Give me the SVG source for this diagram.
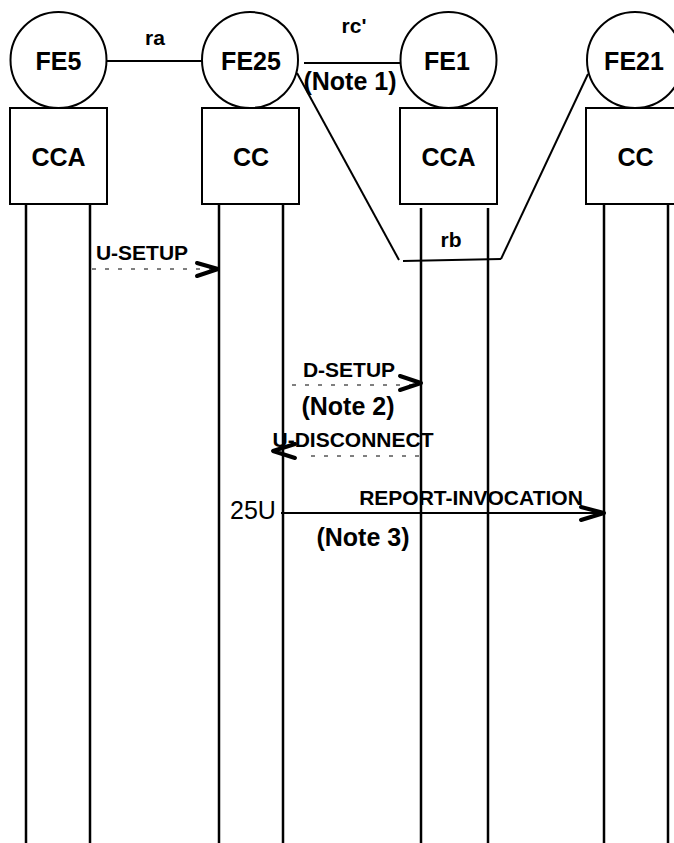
<svg xmlns="http://www.w3.org/2000/svg" width="674" height="843" viewBox="0 0 674 843">
<style>
.shape{fill:#fff;stroke:#000;stroke-width:2}
.life{stroke:#000;stroke-width:2.5}
.link{stroke:#000;stroke-width:2;fill:none}
.dash{stroke:#000;stroke-width:1;stroke-dasharray:4 9;fill:none}
.solid{stroke:#000;stroke-width:2;fill:none}
.head{stroke:#000;stroke-width:4;fill:none;stroke-linecap:round;stroke-linejoin:round}
.big{font-family:"Liberation Sans",Arial,sans-serif;font-weight:bold;font-size:25px;text-anchor:middle}
.sm{font-family:"Liberation Sans",Arial,sans-serif;font-weight:bold;font-size:21px;text-anchor:middle}
.reg{font-family:"Liberation Sans",Arial,sans-serif;font-size:25px;text-anchor:middle}
</style>
<g id="lifelines">
<line class="life" x1="26" y1="204" x2="26" y2="843"/>
<line class="life" x1="90" y1="204" x2="90" y2="843"/>
<line class="life" x1="219" y1="204" x2="219" y2="843"/>
<line class="life" x1="283" y1="204" x2="283" y2="843"/>
<line class="life" x1="421" y1="208" x2="421" y2="843"/>
<line class="life" x1="488" y1="208" x2="488" y2="843"/>
<line class="life" x1="604" y1="204" x2="604" y2="843"/>
<line class="life" x1="668" y1="204" x2="668" y2="843"/>
</g>
<g id="FE5">
<circle class="shape" cx="58.5" cy="60" r="48"/>
<text class="big" x="58.5" y="70">FE5</text>
<rect class="shape" x="10" y="108" width="97" height="96"/>
<text class="big" x="58.5" y="166">CCA</text>
</g>
<g id="FE25">
<circle class="shape" cx="250" cy="60" r="48"/>
<text class="big" x="251" y="70">FE25</text>
<rect class="shape" x="202" y="108" width="97" height="96"/>
<text class="big" x="251" y="166">CC</text>
</g>
<g id="FE1">
<circle class="shape" cx="448.5" cy="60" r="48"/>
<text class="big" x="447" y="70">FE1</text>
<rect class="shape" x="400" y="108" width="97" height="96"/>
<text class="big" x="448.5" y="166">CCA</text>
</g>
<g id="FE21">
<circle class="shape" cx="635" cy="60" r="48"/>
<text class="big" x="634" y="70">FE21</text>
<rect class="shape" x="586" y="108" width="97" height="96"/>
<text class="big" x="635.5" y="166">CC</text>
</g>
<g id="connectors">
<line class="link" x1="107" y1="61" x2="202" y2="61"/>
<text class="sm" x="155" y="45">ra</text>
<line class="link" x1="304" y1="63" x2="400" y2="63"/>
<text class="sm" x="354" y="33">rc'</text>
<text class="big" x="350" y="90">(Note 1)</text>
<line class="link" x1="297" y1="73" x2="399" y2="260"/>
<line class="link" x1="403" y1="261" x2="501" y2="259"/>
<line class="link" x1="501" y1="259" x2="588" y2="74"/>
<text class="sm" x="451" y="247">rb</text>

<line class="dash" x1="92" y1="269" x2="216" y2="269"/>
<polyline class="head" points="197,263 218,269 197,276"/>
<text class="sm" x="142" y="260">U-SETUP</text>

<line class="dash" x1="292" y1="385" x2="419" y2="385"/>
<polyline class="head" points="400,376 421,383 400,390"/>
<text class="sm" x="349" y="377">D-SETUP</text>
<text class="big" x="348" y="415">(Note 2)</text>

<line class="dash" x1="311" y1="456" x2="419" y2="456"/>
<polyline class="head" points="295,444 273,451 295,458"/>
<text class="sm" x="353" y="447">U-DISCONNECT</text>

<line class="solid" x1="281" y1="513" x2="603" y2="513"/>
<polyline class="head" points="581,507 604,513 581,520"/>
<text class="sm" x="471" y="505">REPORT-INVOCATION</text>
<text class="reg" x="253" y="519">25U</text>
<text class="big" x="363" y="546">(Note 3)</text>
</g>
</svg>
